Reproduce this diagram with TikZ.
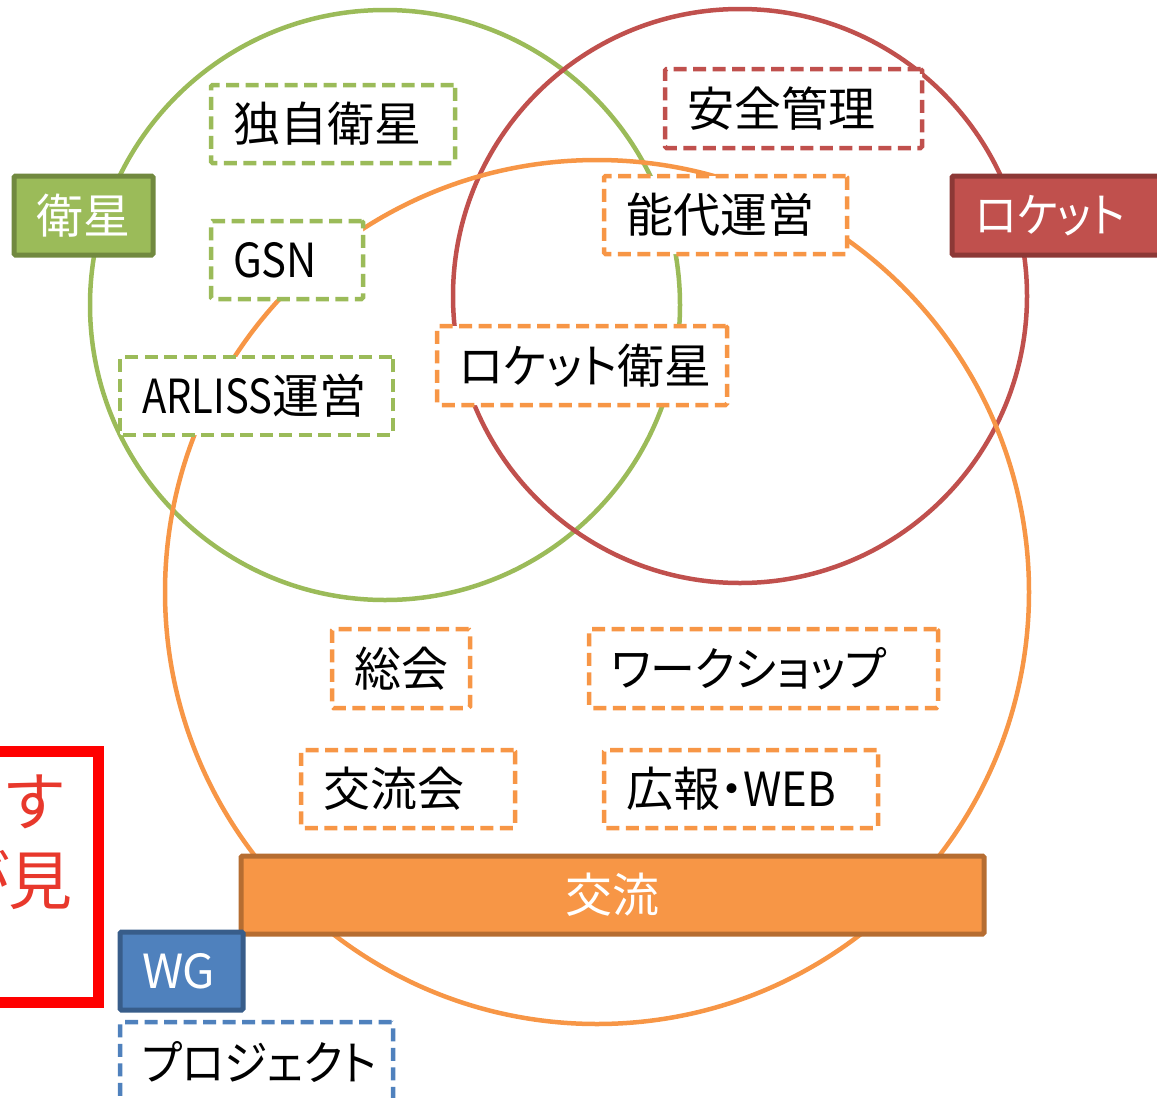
\documentclass[tikz,border=0pt]{standalone}
\usepackage{fontspec}
\setmainfont{Noto Sans CJK JP}[RawFeature=+palt]
\definecolor{gfill}{HTML}{9BBB59}
\definecolor{gdark}{HTML}{71893F}
\definecolor{rfill}{HTML}{C0504D}
\definecolor{rdark}{HTML}{8C3836}
\definecolor{ofill}{HTML}{F79646}
\definecolor{odark}{HTML}{B66D31}
\definecolor{bfill}{HTML}{4F81BD}
\definecolor{bdark}{HTML}{385D8A}
\definecolor{redtext}{RGB}{232,56,44}
\newcommand\mybox[7]{%
  \node[#2, minimum width={#5-#3}, minimum height={#6-#4}] (#1) at ({(#3+#5)/2},{(#4+#6)/2}) {};
  \node[lbl, anchor=west] (#1-t) at ({#3+22},{(#4+#6)/2}) {#7};
}
\newcommand\nlat[2]{\scalebox{#1}[1]{#2}}
\begin{document}
\begin{tikzpicture}[x=1pt,y=-1pt,
  ring/.style={circle, draw, line width=4.5pt, inner sep=0pt, outer sep=0pt, fill=none},
  dbox/.style={rectangle, draw, fill=white, line width=4.5pt, dash pattern=on 13pt off 6.5pt, rounded corners=1.5pt, inner sep=0pt, outer sep=0pt},
  sbox/.style={rectangle, line width=5pt, rounded corners=1.5pt, inner sep=0pt, outer sep=0pt},
  lbl/.style={inner sep=0pt, outer sep=0pt, font=\fontsize{47}{56}\selectfont, text=black},
  wlbl/.style={lbl, text=white},
  redlbl/.style={inner sep=0pt, outer sep=0pt, font=\fontsize{64}{72}\selectfont, text=redtext}]
\useasboundingbox (0,0) rectangle (1157,1098);
\clip (0,0) rectangle (1157,1098);
% circles
\node[ring, draw=gfill, minimum size=590pt] (gc) at (385,305) {};
\node[ring, draw=rfill, minimum size=574pt] (rc) at (740,296) {};
\node[ring, draw=ofill, minimum size=864pt] (oc) at (597,592) {};
% dashed boxes - satellite
\mybox{dokuji}{dbox, draw=gfill}{211}{85}{455}{163}{独自衛星}
\mybox{gsn}{dbox, draw=gfill}{211}{221}{363}{299}{\nlat{0.89}{GSN}}
\mybox{arliss}{dbox, draw=gfill}{120}{357}{393}{435}{\nlat{0.85}{ARLISS}運営}
% rocket
\mybox{anzen}{dbox, draw=rfill}{665}{69}{922}{148}{安全管理}
% orange
\mybox{noshiro}{dbox, draw=ofill}{604}{176}{847}{254}{能代運営}
\mybox{rsat}{dbox, draw=ofill}{437}{326}{727}{405}{\nlat{0.97}{ロケット}衛星}
\mybox{soukai}{dbox, draw=ofill}{332}{629}{470}{708}{総会}
\mybox{ws}{dbox, draw=ofill}{589}{629}{938}{708}{\nlat{0.955}{ワークショップ}}
\mybox{kouryukai}{dbox, draw=ofill}{301}{750}{515}{828}{交流会}
\mybox{kouhou}{dbox, draw=ofill}{604}{750}{878}{828}{広報・\nlat{0.93}{WEB}}
% blue
\mybox{proj}{dbox, draw=bfill}{120}{1022}{393}{1102}{\nlat{0.93}{プロジェクト}}
% solid boxes
\node[sbox, fill=gfill, draw=gdark, minimum width=139pt, minimum height=79pt] (sat) at (83.5,215.5) {};
\node[wlbl] (sat-t) at (83,215.5) {衛星};
\node[sbox, fill=rfill, draw=rdark, minimum width=230pt, minimum height=79pt] (rkt) at (1067,215.5) {};
\node[wlbl, anchor=west] (rkt-t) at (975,215.5) {\nlat{0.92}{ロケット}};
\node[sbox, fill=ofill, draw=odark, minimum width=743pt, minimum height=78pt] (bar) at (612.5,895) {};
\node[wlbl] (bar-t) at (612,895) {交流};
\node[sbox, fill=bfill, draw=bdark, minimum width=123pt, minimum height=78pt] (wg) at (181.5,971) {};
\node[wlbl, anchor=west] (wg-t) at (142,971) {WG};
% red note box (cut off at left)
\node[rectangle, draw=red, line width=11pt, fill=none, inner sep=0pt, minimum width=180pt, minimum height=251pt] (note) at (8,876.5) {};
\node[redlbl, anchor=east] (note-a) at (64,802) {す};
\node[redlbl, anchor=east] (note-b) at (73,880) {が見};
\end{tikzpicture}
\end{document}
